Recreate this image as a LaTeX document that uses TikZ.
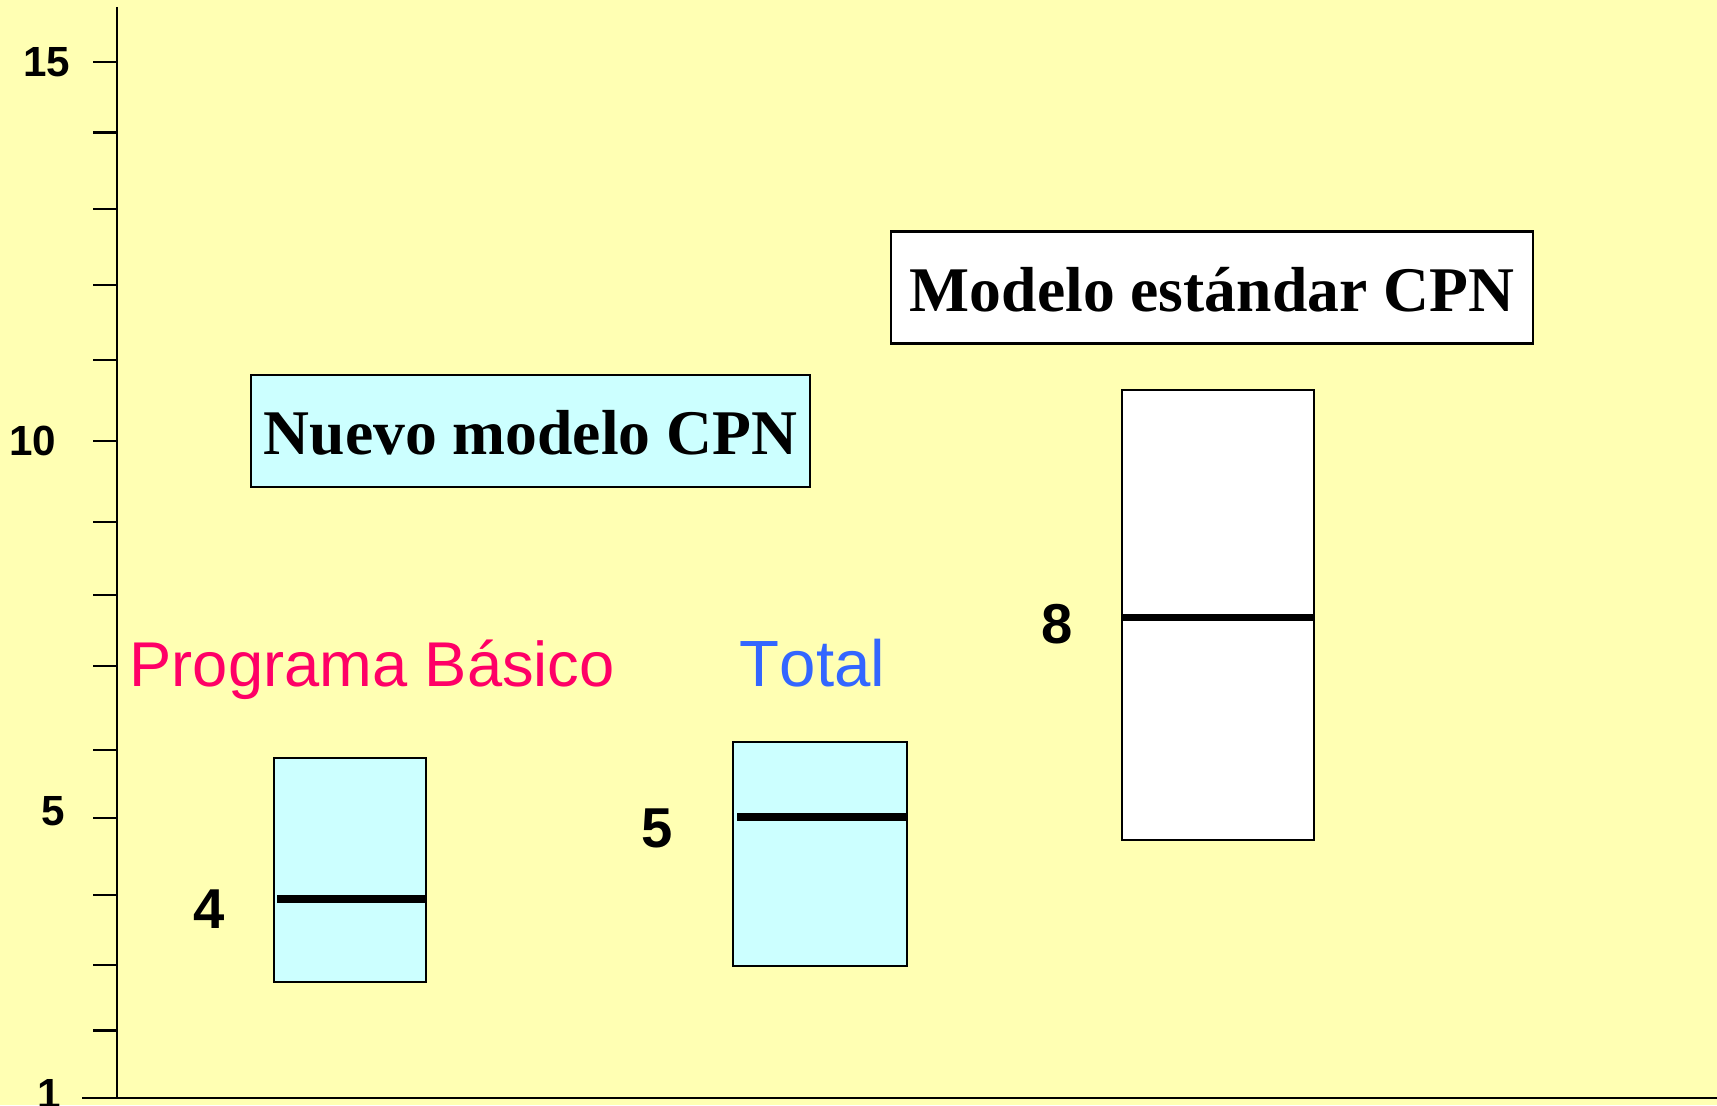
\documentclass[tikz,border=0pt]{standalone}
\usepackage{fontspec}
\setmainfont{Liberation Serif}
\setsansfont{Liberation Sans}
\definecolor{paper_c}{RGB}{255,255,179}
\definecolor{box_c}{RGB}{204,255,255}
\definecolor{prog_c}{RGB}{255,0,102}
\definecolor{total_c}{RGB}{51,102,255}
\usepackage{tikz}
\usetikzlibrary{positioning}

\begin{document}
\begin{tikzpicture}[
			x=0.1mm, y=-0.1mm,
			axis/.style = {line width=0.6pt},
			tick label/.style = {inner sep=0, font=\sffamily\bfseries\fontsize{12}{14}\selectfont},
			title/.style = {draw, line width=0.6pt, text height=13.5pt, text depth=0pt,
				font=\rmfamily\bfseries\fontsize{18.1}{20}\selectfont},
			iqr/.style = {draw, line width=0.6pt, inner sep=0},
			median/.style = {line width=2.1pt},
			value/.style = {inner sep=0, font=\sffamily\bfseries\fontsize{16}{18}\selectfont},
			group/.style = {inner sep=0, anchor=base west,
				font=\sffamily\fontsize{#1}{20}\selectfont\addfontfeatures{Kerning=Off}},
			group/.default = 18,
			]
			\useasboundingbox (0,0) rectangle (1717,1105);
			\fill[paper_c] (0,0) rectangle (1717,1105);
			% axes
			\coordinate (top) at (117,7);
			\coordinate (origin) at (117,1098);
			\coordinate (xstart) at (82,1098);
			\coordinate (xend) at (1717,1098);
			\draw[axis] (top) -- (origin);
			\draw[line width=0.8pt] (xstart) -- (xend);
			\foreach \y in {62.4,132.5,209.2,284.7,360.3,441.3,522.4,594.6,665.8,750.1,818,894.7,964.8,1030.5}
				\draw[axis] (93,\y) -- (117,\y);
			\node[tick label] (l15) at (47,62.4) {15};
			\node[tick label] (l10) at (33,441.3) {10};
			\node[tick label] (l5) at (53,811) {5};
			\node[tick label] (l1) at (49,1094) {1};
			% titles
			\node[title, fill=box_c, minimum width=55.9mm, minimum height=11.15mm]
			      (nuevo) at (530.5,431) {Nuevo modelo CPN};
			\node[title, fill=white, minimum width=64.2mm, minimum height=11.2mm]
			      (estandar) at (1212,287.5) {Modelo estándar CPN};
			\node[group, text=prog_c] (prog) at (129,686.6) {Programa Básico};
			\node[group=18.6, text=total_c] (total) at (739,686.6) {Total};
			% boxes
			\node[iqr, fill=box_c, minimum width=15.2mm, minimum height=22.4mm] (b1) at (350,870) {};
			\node[iqr, fill=box_c, minimum width=17.4mm, minimum height=22.35mm] (b2) at (819.7,854) {};
			\node[iqr, fill=white, minimum width=19.16mm, minimum height=45mm] (b3) at (1218,615) {};
			% medians
			\coordinate (m1) at (277,899);
			\coordinate (m2) at (737,817);
			\coordinate (m3) at (1122.5,617.6);
			\draw[median] (m1) -- (m1 -| b1.east);
			\draw[median] (m2) -- (m2 -| b2.east);
			\draw[median] (m3) -- (m3 -| b3.east);
			\node[value] (v1) at (209,909) {4};
			\node[value] (v2) at (657,828) {5};
			\node[value] (v3) at (1057.5,624) {8};
		\end{tikzpicture}
\end{document}
